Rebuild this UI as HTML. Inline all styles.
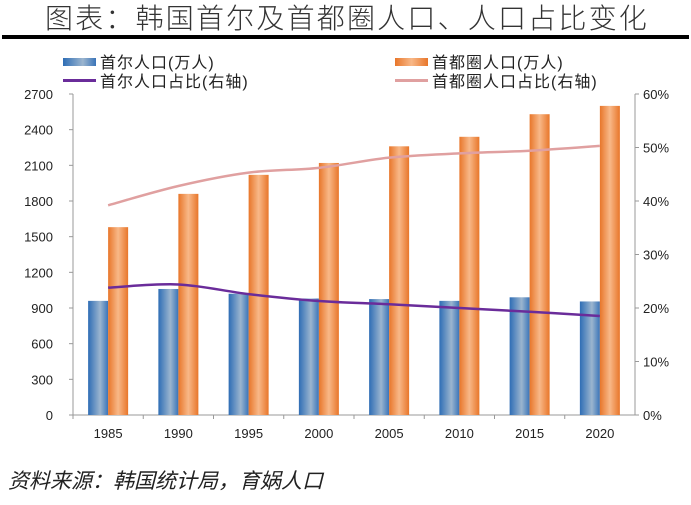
<!DOCTYPE html>
<html><head><meta charset="utf-8"><style>
body{margin:0;background:#fff;}
svg text{font-family:"Liberation Sans","Noto Sans CJK SC",sans-serif;}
</style></head><body>
<svg id="c" width="691" height="500" xmlns="http://www.w3.org/2000/svg">
<defs>
<linearGradient id="gb" x1="0" x2="1"><stop offset="0" stop-color="#2e6db5"/><stop offset="0.6" stop-color="#9bb5cf"/><stop offset="1" stop-color="#3a74b8"/></linearGradient>
<linearGradient id="go" x1="0" x2="1"><stop offset="0" stop-color="#e8762a"/><stop offset="0.5" stop-color="#f8b888"/><stop offset="1" stop-color="#e8762a"/></linearGradient>
</defs>
<text x="347" y="28" font-size="28" letter-spacing="2.2" font-weight="300" text-anchor="middle" fill="#333">图表：韩国首尔及首都圈人口、人口占比变化</text>
<rect x="2" y="35" width="687" height="4" fill="#000"/>
<g>
<rect x="63" y="58" width="33" height="8" fill="url(#gb)"/>
<text x="100" y="68" font-size="16" letter-spacing="1" fill="#222">首尔人口(万人)</text>
<rect x="395" y="58" width="33" height="8" fill="url(#go)"/>
<text x="432" y="68" font-size="16" letter-spacing="1" fill="#222">首都圈人口(万人)</text>
<rect x="63" y="79" width="33" height="3" fill="#6a2c9a"/>
<text x="100" y="87" font-size="16" letter-spacing="1" fill="#222">首尔人口占比(右轴)</text>
<rect x="395" y="79" width="33" height="3" fill="#e0a0a0"/>
<text x="432" y="87" font-size="16" letter-spacing="1" fill="#222">首都圈人口占比(右轴)</text>
</g>
<g id="plot"></g>
<text x="8" y="488" font-size="21" font-style="italic" fill="#222">资料来源：韩国统计局，育娲人口</text>
</svg>
<script>
const categories=["1985","1990","1995","2000","2005","2010","2015","2020"];
const seoulPop=[960,1060,1020,980,975,960,990,955];
const metroPop=[1580,1860,2020,2120,2260,2340,2530,2600];
const seoulShare=[23.8,24.4,22.6,21.3,20.7,20.0,19.3,18.5];
const metroShare=[39.2,42.8,45.3,46.2,48.1,48.9,49.4,50.3];
const leftTicks=[0,300,600,900,1200,1500,1800,2100,2400,2700];
const rightTicks=[0,10,20,30,40,50,60];
const L=73,R=635,T=94,B=415,NS="http://www.w3.org/2000/svg";
const g=document.getElementById('plot');
const cw=(R-L)/categories.length;
const xc=i=>L+cw*(i+0.5);
const yl=v=>B-(v/2700)*(B-T);
const yr=v=>B-(v/60)*(B-T);
function mk(t,a){const e=document.createElementNS(NS,t);for(const k in a)e.setAttribute(k,a[k]);g.appendChild(e);return e;}
let e;
e=mk('line',{x1:L,y1:T,x2:L,y2:B,stroke:'#999'});


e=mk('line',{x1:R,y1:T,x2:R,y2:B,stroke:'#999'});


e=mk('line',{x1:L,y1:B,x2:R,y2:B,stroke:'#999'});


leftTicks.forEach(v=>{mk('line',{x1:L-4,y1:yl(v),x2:L,y2:yl(v),stroke:'#999'});
e=mk('text',{x:L-20,y:yl(v)+5,'font-size':13,'text-anchor':'end',fill:'#222'});e.textContent=v;

});
rightTicks.forEach(v=>{mk('line',{x1:R,y1:yr(v),x2:R+4,y2:yr(v),stroke:'#999'});
e=mk('text',{x:R+8,y:yr(v)+5,'font-size':13,fill:'#222'});e.textContent=v+'%';

});
categories.forEach((c,i)=>{mk('line',{x1:L+cw*i,y1:B,x2:L+cw*i,y2:B+4,stroke:'#999'});
e=mk('text',{x:xc(i),y:B+23,'font-size':13,'text-anchor':'middle',fill:'#222'});e.textContent=c;


e=mk('rect',{x:xc(i)-20,y:yl(seoulPop[i]),width:20,height:B-yl(seoulPop[i]),fill:'url(#gb)'});


e=mk('rect',{x:xc(i),y:yl(metroPop[i]),width:20,height:B-yl(metroPop[i]),fill:'url(#go)'});

});
function smooth(vals){const p=vals.map((v,i)=>[xc(i),yr(v)]);let d='M'+p[0];
for(let i=0;i<p.length-1;i++){const p0=p[i-1]||p[i],p1=p[i],p2=p[i+1],p3=p[i+2]||p2;
d+=' C'+(p1[0]+(p2[0]-p0[0])/6)+','+(p1[1]+(p2[1]-p0[1])/6)+' '+(p2[0]-(p3[0]-p1[0])/6)+','+(p2[1]-(p3[1]-p1[1])/6)+' '+p2[0]+','+p2[1];}return d;}
e=mk('path',{d:smooth(metroShare),fill:'none',stroke:'#e0a0a0','stroke-width':2.5});


e=mk('path',{d:smooth(seoulShare),fill:'none',stroke:'#6a2c9a','stroke-width':2.5});


</script>
</body></html>
